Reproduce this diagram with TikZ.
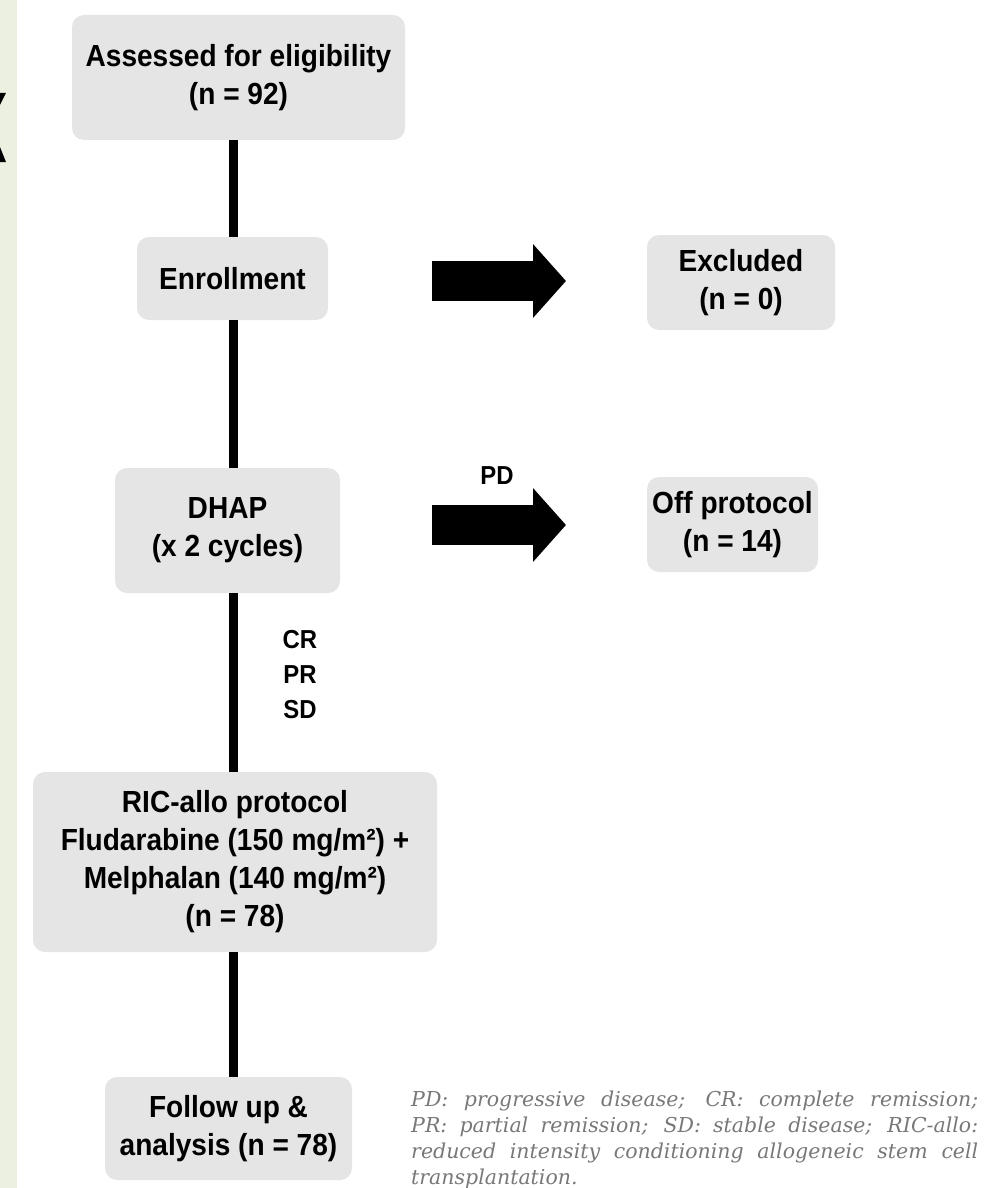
\documentclass[tikz,border=0pt]{standalone}
\usepackage{fontspec}
\setmainfont{Liberation Sans}[FakeStretch=0.92]
\newfontfamily\notefont{DejaVu Serif}
\usetikzlibrary{arrows.meta}
\definecolor{boxgray}{RGB}{229,229,229}
\definecolor{stripgreen}{RGB}{236,240,224}
\definecolor{notegray}{RGB}{120,120,120}
\begin{document}
\begin{tikzpicture}[x=1pt,y=-1pt]
\tikzstyle{flowbox} = [rectangle, rounded corners=12pt, fill=boxgray, align=center,
  inner sep=0pt, font=\fontsize{30.5}{38}\selectfont\bfseries]
\tikzstyle{spine} = [line width=9pt]
\tikzstyle{bigarrow} = [line width=40pt, -{Triangle[length=33pt,width=72pt]}]
\tikzstyle{tag} = [align=center, font=\fontsize{26}{35}\selectfont\bfseries]
\useasboundingbox (0,0) rectangle (983,1188);
\fill[stripgreen] (0,0) rectangle (17,1188);
\fill (0,93) -- (6,93) -- (0,105) -- cycle;
\fill (0,147) -- (6,162) -- (0,162) -- cycle;
	\node[flowbox, minimum width=333pt, minimum height=125pt] (assess) at (238.5,77.5)
		{Assessed for eligibility\\(n = 92)};
	\node[flowbox, minimum width=191pt, minimum height=83pt] (enroll) at (232.5,278.5)
		{Enrollment};
	\node[flowbox, minimum width=225pt, minimum height=125pt] (dhap) at (227.5,530.5)
		{DHAP\\(x 2 cycles)};
	\node[flowbox, minimum width=404pt, minimum height=180pt] (ric) at (235,862)
		{RIC-allo protocol\\Fludarabine (150 mg/m²) +\\Melphalan (140 mg/m²)\\(n = 78)};
	\node[flowbox, minimum width=247pt, minimum height=103pt] (follow) at (228.5,1128.5)
		{Follow up \&\\analysis (n = 78)};
	\node[flowbox, minimum width=188pt, minimum height=95pt] (excl) at (741,282.5)
		{Excluded\\(n = 0)};
	\node[flowbox, minimum width=171pt, minimum height=95pt] (off) at (732.5,524.5)
		{Off protocol\\(n = 14)};
\coordinate (axis) at (233,0);
	\draw[spine] (assess.south -| axis) -- (enroll.north -| axis);
	\draw[spine] (enroll.south -| axis) -- (dhap.north -| axis);
	\draw[spine] (dhap.south -| axis) -- (ric.north -| axis);
	\draw[spine] (ric.south -| axis) -- (follow.north -| axis);
\coordinate (excl-from) at (432,281);
\coordinate (excl-to) at (566,281);
\coordinate (off-from) at (432,525);
\coordinate (off-to) at (566,525);
	\draw[bigarrow] (excl-from) -- (excl-to);
	\draw[bigarrow] (off-from) -- (off-to);
	\node[tag] (pd) at (497,476) {PD};
	\node[tag] (resp) at (300,675) {CR\\PR\\SD};
	\node[anchor=north west, inner sep=0pt, text width=567pt, align=justify,
		text=notegray, font=\notefont\itshape\fontsize{20.5}{26}\selectfont] (note) at (411,1091)
		{PD: progressive disease; CR: complete remission;\linebreak
		PR: partial remission; SD: stable disease; RIC-allo:\linebreak
		reduced intensity conditioning allogeneic stem cell\linebreak
		transplantation.};
\end{tikzpicture}
\end{document}
